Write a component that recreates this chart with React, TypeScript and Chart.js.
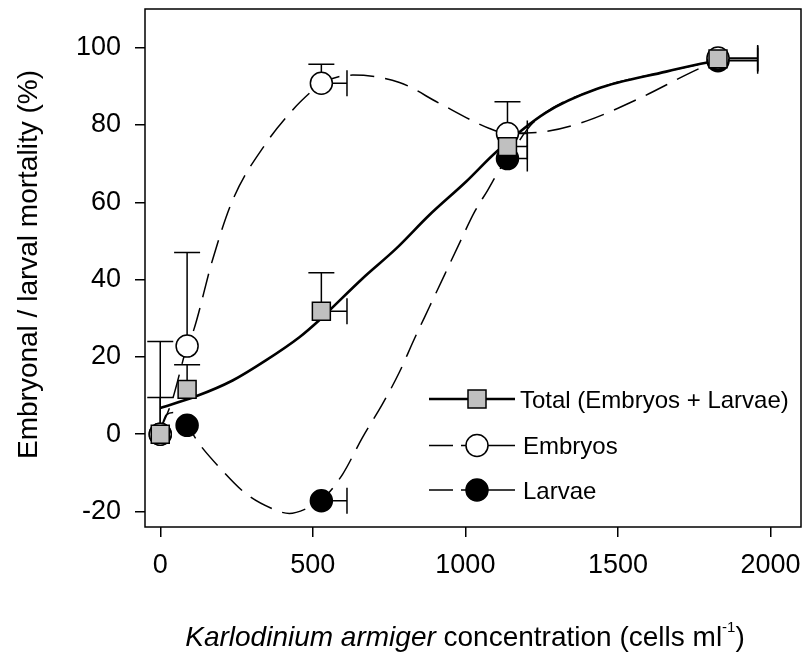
import React, { useEffect, useRef } from "react";
import { Chart, registerables } from "chart.js";

Chart.register(...registerables);

// ---- data ----
const concentrations = [0, 88, 528, 1138, 1828];
const totalMortality = [0, 11.6, 31.8, 74.4, 97.1];
const embryoMortality = [0, 22.8, 90.8, 77.8, 97.3];
const larvaeMortality = [0, 2.3, -17.2, 71.3, 96.6];
const totalErrUp = [9.5, 6.4, 10, 0, 0];
const embryoErrUp = [24, 24.2, 4.9, 8.2, 0];
const larvaeErrUp = [0, 0, 0, 0, 0];
const concErrRight = [0, 0, 84, 65, 130];

// fitted curves
const totalFitX = [0, 117, 237, 346, 456, 521, 554, 663, 773, 882, 1002, 1101, 1264, 1430, 1658, 1828];
const totalFitY = [6.8, 9.8, 13.9, 19.1, 25.1, 29.5, 32, 40.3, 48, 56.7, 65.3, 73.0, 83.2, 89.3, 93.8, 96.8];
const embryoFitX = [0, 40, 88, 109, 171, 237, 346, 434, 500, 528, 631, 784, 915, 1079, 1138, 1254, 1396, 1560, 1745, 1828];
const embryoFitY = [1, 9, 22.8, 26.8, 45, 60.5, 75.2, 83.9, 89, 90.8, 92.9, 91, 85.6, 79.1, 77.8, 78.2, 81, 86.5, 93.8, 96.8];
const larvaeFitX = [0, 20, 46, 88, 128, 193, 281, 368, 423, 489, 528, 598, 663, 729, 784, 833, 882, 931, 980, 1030, 1073, 1111, 1138, 1221, 1430, 1658, 1828];
const larvaeFitY = [1, 5, 5.6, 2.3, -2.5, -8.5, -15.4, -19.3, -20.5, -18.9, -17.2, -10.3, -0.8, 7.9, 16.1, 24.7, 32.9, 41.1, 49.3, 57.5, 63.1, 68.3, 71.3, 80.5, 89.3, 93.8, 96.8];

const xTicks = [0, 500, 1000, 1500, 2000];
const yTicks = [-20, 0, 20, 40, 60, 80, 100];
const seriesNames = ["Total (Embryos + Larvae)", "Embryos", "Larvae"];
const yTitle = "Embryonal / larval mortality (%)";
const xTitleItalic = "Karlodinium armiger";
const xTitleRest = " concentration (cells ml";
const xTitleSup = "-1";
const xTitleEnd = ")";

const FONT = "'Liberation Sans', Arial, sans-serif";
const GRAY = "#c0c0c0";
const DASH = [24, 11];

const pts = (xs: number[], ys: number[]) => xs.map((x, i) => ({ x, y: ys[i] }));

const errorBarPlugin = {
  id: "errorBars",
  beforeDatasetsDraw(chart: any) {
    const ctx = chart.ctx;
    const xs = chart.scales.x;
    const ys = chart.scales.y;
    const cap = 13;
    ctx.save();
    ctx.strokeStyle = "#000";
    ctx.lineWidth = 1.5;
    ctx.setLineDash([]);
    chart.data.datasets.forEach((ds: any) => {
      if (!ds.errUp) return;
      ds.data.forEach((p: any, i: number) => {
        const px = xs.getPixelForValue(p.x);
        const py = ys.getPixelForValue(p.y);
        const eu = ds.errUp[i];
        if (eu > 0) {
          const ty = ys.getPixelForValue(p.y + eu);
          ctx.beginPath();
          ctx.moveTo(px, py);
          ctx.lineTo(px, ty);
          ctx.moveTo(px - cap, ty);
          ctx.lineTo(px + cap, ty);
          ctx.stroke();
        }
        const er = ds.errRight[i];
        if (er > 0) {
          const tx = xs.getPixelForValue(p.x + er);
          ctx.beginPath();
          ctx.moveTo(px, py);
          ctx.lineTo(tx, py);
          ctx.moveTo(tx, py - cap);
          ctx.lineTo(tx, py + cap);
          ctx.stroke();
        }
      });
    });
    ctx.restore();
  },
};

const decorPlugin = {
  id: "decor",
  afterDraw(chart: any) {
    const ctx = chart.ctx;
    const a = chart.chartArea;
    ctx.save();
    // frame
    ctx.strokeStyle = "#000";
    ctx.lineWidth = 1.5;
    ctx.setLineDash([]);
    ctx.strokeRect(a.left, a.top, a.right - a.left, a.bottom - a.top);

    // y title
    ctx.fillStyle = "#000";
    ctx.font = `28px ${FONT}`;
    ctx.textAlign = "center";
    ctx.textBaseline = "alphabetic";
    ctx.save();
    ctx.translate(37, 264.5);
    ctx.rotate(-Math.PI / 2);
    ctx.fillText(yTitle, 0, 0);
    ctx.restore();

    // x title with italic part and superscript
    const fItal = `italic 28px ${FONT}`;
    const fNorm = `28px ${FONT}`;
    const fSup = `15px ${FONT}`;
    ctx.textAlign = "left";
    ctx.font = fItal;
    const w1 = ctx.measureText(xTitleItalic).width;
    ctx.font = fNorm;
    const w2 = ctx.measureText(xTitleRest).width;
    const w4 = ctx.measureText(xTitleEnd).width;
    ctx.font = fSup;
    const w3 = ctx.measureText(xTitleSup).width;
    const total = w1 + w2 + w3 + w4;
    let x = 465 - total / 2;
    const base = 646;
    ctx.font = fItal;
    ctx.fillText(xTitleItalic, x, base);
    x += w1;
    ctx.font = fNorm;
    ctx.fillText(xTitleRest, x, base);
    x += w2;
    ctx.font = fSup;
    ctx.fillText(xTitleSup, x, base - 14);
    x += w3;
    ctx.font = fNorm;
    ctx.fillText(xTitleEnd, x, base);

    // legend
    const rows = [399, 445.5, 490];
    const textX = [520, 523, 523];
    const x0 = 429;
    const x1 = 515;
    const xm = 477;
    rows.forEach((ry, i) => {
      ctx.strokeStyle = "#000";
      if (i === 0) {
        ctx.lineWidth = 2.5;
        ctx.setLineDash([]);
        ctx.beginPath();
        ctx.moveTo(x0, ry);
        ctx.lineTo(x1, ry);
        ctx.stroke();
        ctx.lineWidth = 1.5;
        ctx.fillStyle = GRAY;
        ctx.fillRect(xm - 9, ry - 9, 18, 18);
        ctx.strokeRect(xm - 9, ry - 9, 18, 18);
      } else {
        ctx.lineWidth = 1.5;
        ctx.setLineDash([]);
        ctx.beginPath();
        ctx.moveTo(x0, ry);
        ctx.lineTo(453, ry);
        ctx.moveTo(461, ry);
        ctx.lineTo(x1, ry);
        ctx.stroke();
        ctx.beginPath();
        ctx.arc(xm, ry, 11, 0, Math.PI * 2);
        ctx.fillStyle = i === 1 ? "#fff" : "#000";
        ctx.fill();
        ctx.stroke();
      }
      ctx.fillStyle = "#000";
      ctx.font = `24px ${FONT}`;
      ctx.textAlign = "left";
      ctx.textBaseline = "alphabetic";
      ctx.fillText(seriesNames[i], textX[i], ry + 8.5);
    });
    ctx.restore();
  },
};

const noPad = (s: any) => {
  s.paddingLeft = 0;
  s.paddingRight = 0;
  s.paddingTop = 0;
  s.paddingBottom = 0;
};

export default function App() {
  const ref = useRef<HTMLCanvasElement | null>(null);
  useEffect(() => {
    if (!ref.current) return;
    const chart = new Chart(ref.current, {
      type: "scatter",
      data: {
        datasets: [
          {
            label: seriesNames[0],
            data: pts(concentrations, totalMortality),
            showLine: false,
            pointStyle: "rect",
            pointRadius: 12.7,
            pointBackgroundColor: GRAY,
            pointBorderColor: "#000",
            pointBorderWidth: 1.5,
            order: 0,
            errUp: totalErrUp,
            errRight: concErrRight,
          } as any,
          {
            label: seriesNames[1],
            data: pts(concentrations, embryoMortality),
            showLine: false,
            pointStyle: "circle",
            pointRadius: 11,
            pointBackgroundColor: "#fff",
            pointBorderColor: "#000",
            pointBorderWidth: 1.5,
            order: 1,
            errUp: embryoErrUp,
            errRight: concErrRight,
          } as any,
          {
            label: seriesNames[2],
            data: pts(concentrations, larvaeMortality),
            showLine: false,
            pointStyle: "circle",
            pointRadius: 11,
            pointBackgroundColor: "#000",
            pointBorderColor: "#000",
            pointBorderWidth: 1.5,
            order: 2,
            errUp: larvaeErrUp,
            errRight: concErrRight,
          } as any,
          {
            label: "Total fit",
            data: pts(totalFitX, totalFitY),
            showLine: true,
            borderColor: "#000",
            borderWidth: 2.6,
            pointRadius: 0,
            cubicInterpolationMode: "monotone",
            order: 3,
          },
          {
            label: "Embryos fit",
            data: pts(embryoFitX, embryoFitY),
            showLine: true,
            borderColor: "#000",
            borderWidth: 1.5,
            borderDash: DASH,
            pointRadius: 0,
            cubicInterpolationMode: "monotone",
            order: 4,
          },
          {
            label: "Larvae fit",
            data: pts(larvaeFitX, larvaeFitY),
            showLine: true,
            borderColor: "#000",
            borderWidth: 1.5,
            borderDash: DASH,
            pointRadius: 0,
            cubicInterpolationMode: "monotone",
            order: 5,
          },
        ],
      },
      options: {
        responsive: false,
        animation: false,
        layout: { autoPadding: false, padding: { top: 9, right: 3, left: 0, bottom: 0 } },
        plugins: { legend: { display: false }, tooltip: { enabled: false } },
        scales: {
          x: {
            type: "linear",
            min: -50,
            max: 2100,
            afterBuildTicks: (s: any) => {
              s.ticks = xTicks.map((v) => ({ value: v }));
            },
            afterFit: (s: any) => {
              s.height = 126;
              noPad(s);
            },
            border: { display: false },
            grid: {
              drawOnChartArea: false,
              drawTicks: true,
              tickLength: 10,
              color: "#000",
              lineWidth: 1.5,
            },
            ticks: {
              color: "#000",
              font: { family: FONT, size: 27 },
              padding: 12,
              maxRotation: 0,
              autoSkip: false,
              callback: (v: any) => String(v),
            },
          },
          y: {
            type: "linear",
            min: -24,
            max: 110,
            afterBuildTicks: (s: any) => {
              s.ticks = yTicks.map((v) => ({ value: v }));
            },
            afterFit: (s: any) => {
              s.width = 145;
              noPad(s);
            },
            border: { display: false },
            grid: {
              drawOnChartArea: false,
              drawTicks: true,
              tickLength: 10,
              color: "#000",
              lineWidth: 1.5,
            },
            ticks: {
              color: "#000",
              font: { family: FONT, size: 27 },
              padding: 14,
              autoSkip: false,
              callback: (v: any) => String(v),
            },
          },
        },
      },
      plugins: [errorBarPlugin, decorPlugin],
    });
    return () => chart.destroy();
  }, []);
  return (
    <div style={{ position: "absolute", left: 0, top: 0, width: 804, height: 653, background: "#fff" }}>
      <canvas ref={ref} width={804} height={653} style={{ width: 804, height: 653 }} />
    </div>
  );
}
